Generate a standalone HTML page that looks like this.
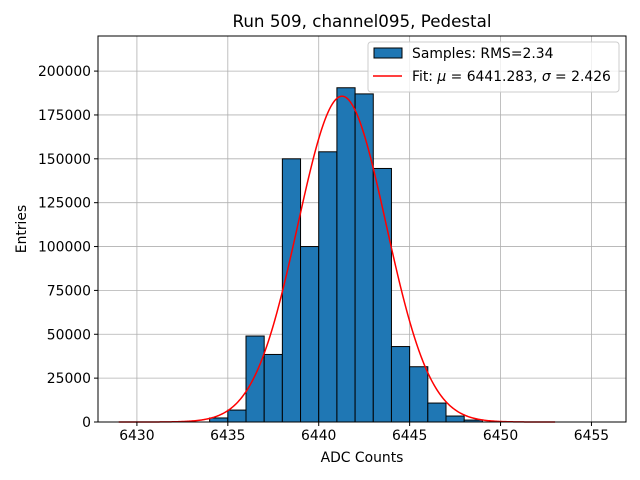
<!DOCTYPE html>
<html><head><meta charset="utf-8"><style>
body{margin:0;background:#fff;}
svg{display:block;font-family:"DejaVu Sans","Liberation Sans",sans-serif;}
</style></head><body>
<svg id="chart" width="640" height="480"></svg>
<script>
const binEdgesStart = [6434,6435,6436,6437,6438,6439,6440,6441,6442,6443,6444,6445,6446,6447,6448];
const binCounts = [2300,6800,49000,38500,150000,100000,154000,190500,187000,144500,43000,31500,10800,3400,1100];
const xTicks = [6430,6435,6440,6445,6450,6455];
const yTicks = [0,25000,50000,75000,100000,125000,150000,175000,200000];
const fitParams = [185700, 6441.283, 2.426];
const fitRange = [6429, 6453];

const NS="http://www.w3.org/2000/svg";
const svg=document.getElementById('chart');
const L=98,R=626,T=36,B=422;
const xMin=6427.86,xMax=6456.9,yMax=220000;
const X=v=>L+(v-xMin)/(xMax-xMin)*(R-L);
const Y=v=>B-v/yMax*(B-T);
function mk(tag,attrs,parent){const e=document.createElementNS(NS,tag);for(const k in attrs)e.setAttribute(k,attrs[k]);(parent||svg).appendChild(e);return e;}

const grid=mk('g',{});


xTicks.forEach(t=>mk('line',{x1:X(t),x2:X(t),y1:T,y2:B,stroke:'#b0b0b0','stroke-width':0.8},grid));
yTicks.forEach(t=>mk('line',{x1:L,x2:R,y1:Y(t),y2:Y(t),stroke:'#b0b0b0','stroke-width':0.8},grid));

const bars=mk('g',{});


binEdgesStart.forEach((e,i)=>{
  const r=mk('rect',{x:X(e),y:Y(binCounts[i]),width:X(e+1)-X(e),height:B-Y(binCounts[i]),fill:'#1f77b4',stroke:'#000','stroke-width':1},bars);
  
  
});

let d='';
for(let i=0;i<=400;i++){const x=fitRange[0]+(fitRange[1]-fitRange[0])*i/400;
  const y=fitParams[0]*Math.exp(-0.5*Math.pow((x-fitParams[1])/fitParams[2],2));
  d+=(i?'L':'M')+X(x).toFixed(2)+' '+Y(y).toFixed(2);}
const fit=mk('path',{d:d,fill:'none',stroke:'#ff0000','stroke-width':1.5});



const frame=mk('rect',{x:L,y:T,width:R-L,height:B-T,fill:'none',stroke:'#000','stroke-width':1});



xTicks.forEach(t=>{mk('line',{x1:X(t),x2:X(t),y1:B,y2:B+4,stroke:'#000'});
  const tx=mk('text',{x:X(t),y:B+18,'text-anchor':'middle','font-size':13.9});tx.textContent=t;
  
  });
yTicks.forEach(t=>{mk('line',{x1:L-4,x2:L,y1:Y(t),y2:Y(t),stroke:'#000'});
  const tx=mk('text',{x:L-7,y:Y(t)+5,'text-anchor':'end','font-size':13.9});tx.textContent=t;
  
  });

const title=mk('text',{x:(L+R)/2,y:27,'text-anchor':'middle','font-size':16.7});title.textContent='Run 509, channel095, Pedestal';


const xl=mk('text',{x:(L+R)/2,y:462,'text-anchor':'middle','font-size':13.9});xl.textContent='ADC Counts';


const yl=mk('text',{x:26,y:(T+B)/2,'text-anchor':'middle','font-size':13.9,transform:'rotate(-90 26 '+((T+B)/2)+')'});yl.textContent='Entries';



const lg=mk('g',{});


mk('rect',{x:368,y:42,width:251,height:50,rx:3,fill:'#fff','fill-opacity':0.8,stroke:'#ccc'},lg);
mk('rect',{x:374,y:48,width:28,height:10,fill:'#1f77b4',stroke:'#000'},lg);
const t1=mk('text',{x:412,y:58,'font-size':13.9},lg);t1.textContent='Samples: RMS=2.34';


mk('line',{x1:373,x2:402,y1:76,y2:76,stroke:'#ff0000','stroke-width':1.5},lg);
const t2=mk('text',{x:412,y:81,'font-size':13.9},lg);
t2.innerHTML='Fit: <tspan font-style="italic">μ</tspan> = 6441.283, <tspan font-style="italic">σ</tspan> = 2.426';


</script>
</body></html>
